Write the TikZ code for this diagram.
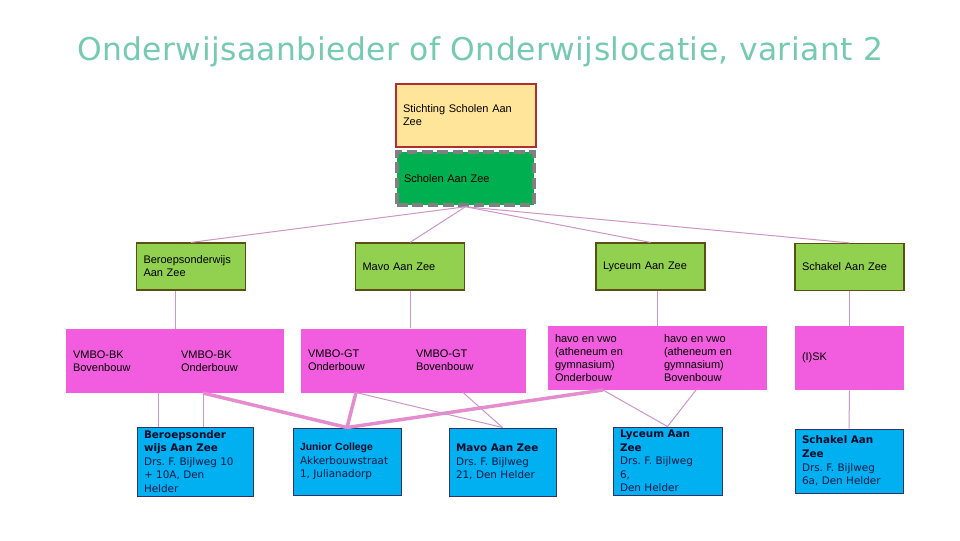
\documentclass[tikz,border=0pt]{standalone}
\usepackage{fontspec}
\setmainfont{Liberation Sans}
\newfontfamily\locfont{DejaVu Sans}
\newfontfamily\titlefont[LetterSpace=1.5]{DejaVu Sans}
\usetikzlibrary{positioning}
\definecolor{titleteal}{RGB}{118,202,176}
\definecolor{sand}{RGB}{255,229,153}
\definecolor{brick}{RGB}{176,48,48}
\definecolor{schoolgreen}{RGB}{0,176,80}
\definecolor{dashgray}{RGB}{128,128,128}
\definecolor{leaf}{RGB}{146,208,80}
\definecolor{olive}{RGB}{90,80,20}
\definecolor{orchid}{RGB}{242,92,222}
\definecolor{sky}{RGB}{0,176,240}
\definecolor{ink}{RGB}{50,50,100}
\definecolor{navytext}{RGB}{15,25,70}
\definecolor{headink}{RGB}{10,10,40}
\definecolor{mauve}{RGB}{204,150,200}
\definecolor{pinkline}{RGB}{228,140,205}
\newcommand{\locname}[1]{{\bfseries\color{headink}#1}}
\frenchspacing
\begin{document}
\begin{tikzpicture}[x=0.75pt, y=-0.75pt,
  smalltext/.style={font=\fontsize{8.25pt}{9.75pt}\selectfont, align=left},
  foundation/.style={smalltext, draw=brick, fill=sand, line width=0.8pt, inner xsep=5.25pt, inner ysep=1pt, text width=94.5pt, minimum height=47.25pt},
  umbrella/.style={smalltext, draw=dashgray, fill=schoolgreen, line width=2.6pt, dash pattern=on 8pt off 3.5pt, inner xsep=5.25pt, inner ysep=1pt, text width=92.25pt, minimum height=39.75pt},
  brand/.style={smalltext, draw=olive, fill=leaf, line width=0.9pt, inner xsep=5.25pt, inner ysep=1pt, text width=71.25pt, minimum height=35.25pt},
  track/.style={fill=orchid, minimum height=48pt, inner sep=0pt},
  tracktext/.style={smalltext, inner sep=0pt, anchor=west},
  locbox/.style={draw=ink, fill=sky, line width=0.75pt, inner xsep=5.25pt, inner ysep=1pt, align=left, text=navytext, font=\locfont\fontsize{7.8pt}{10.2pt}\selectfont},
  link/.style={draw=mauve, line width=0.75pt},
  thicklink/.style={draw=pinkline, line width=2.6pt}]
\path[fill=white] (0,0) rectangle (960,540);
\node[font=\titlefont\fontsize{23.5pt}{28pt}\selectfont, text=titleteal] (title) at (480,52) {Onderwijsaanbieder of Onderwijslocatie, variant 2};
\node[foundation] (stichting) at (466,115.5) {Stichting Scholen Aan\\Zee};
\node[umbrella] (scholen) at (465.5,178.5) {Scholen Aan Zee};
\node[brand] (beroeps) at (191,266.5) {Beroepsonderwijs\\Aan Zee};
\node[brand] (mavo) at (410,266.5) {Mavo Aan Zee};
\node[brand] (lyceum) at (650.5,266.5) {Lyceum Aan Zee};
\node[brand] (schakel) at (849.5,267) {Schakel Aan Zee};
\node[track, minimum width=163.5pt] (bk) at (175,361) {};
\node[track, minimum width=168.75pt] (gt) at (413.5,360.5) {};
\node[track, minimum width=164.25pt] (havo) at (657.5,358) {};
\node[track, minimum width=81.75pt] (isk) at (849.5,358) {};
\node[tracktext, right=5.25pt of bk.west] (bk-bb) {VMBO-BK\\Bovenbouw};
\node[tracktext, right=86.25pt of bk.west] (bk-ob) {VMBO-BK\\Onderbouw};
\node[tracktext, right=5.25pt of gt.west] (gt-ob) {VMBO-GT\\Onderbouw};
\node[tracktext, right=86.25pt of gt.west] (gt-bb) {VMBO-GT\\Bovenbouw};
\node[tracktext, right=5.25pt of havo.west] (havo-ob) {havo en vwo\\(atheneum en\\gymnasium)\\Onderbouw};
\node[tracktext, right=87pt of havo.west] (havo-bb) {havo en vwo\\(atheneum en\\gymnasium)\\Bovenbouw};
\node[tracktext, right=5.25pt of isk.west] (isk-txt) {(I)SK};
\node[locbox, text width=76.5pt, minimum height=51.75pt] (bwaz) at (195,461.5) {\locname{Beroepsonder}\\\locname{wijs Aan Zee}\\Drs. F. Bijlweg 10\\+ 10A, Den\\Helder};
\node[locbox, text width=70.5pt, minimum height=50.25pt] (junior) at (347,461.5) {{\rmfamily\bfseries\color{headink}Junior College}\\Akkerbouwstraat\\1, Julianadorp};
\node[locbox, text width=69.75pt, minimum height=51pt] (mavoloc) at (502.5,462) {\locname{Mavo Aan Zee}\\Drs. F. Bijlweg\\21, Den Helder};
\node[locbox, text width=71.25pt, minimum height=51pt] (lyceumloc) at (667.5,461) {\locname{Lyceum Aan}\\\locname{Zee}\\Drs. F. Bijlweg\\6,\\Den Helder};
\node[locbox, text width=70.5pt, minimum height=48pt] (schakelloc) at (849,461) {\locname{Schakel Aan}\\\locname{Zee}\\Drs. F. Bijlweg\\6a, Den Helder};
\coordinate (bk-1) at (158,393);
\coordinate (bk-2) at (203,393);
\coordinate (gt-1) at (356,392.5);
\coordinate (gt-2) at (463,392.5);
\coordinate (havo-1) at (603,390);
\coordinate (havo-2) at (696,390);
\draw[link] (scholen.south) -- (beroeps.north);
\draw[link] (scholen.south) -- (mavo.north);
\draw[link] (scholen.south) -- (lyceum.north);
\draw[link] (scholen.south) -- (schakel.north);
\draw[link] (bk.north) -- (bk.north |- beroeps.south);
\draw[link] (mavo.south) -- (mavo.south |- gt.north);
\draw[link] (havo.north) -- (havo.north |- lyceum.south);
\draw[link] (schakel.south) -- (isk.north);
\draw[link] (bk-1) -- (bk-1 |- bwaz.north);
\draw[link] (bk-2) -- (bk-2 |- bwaz.north);
\draw[thicklink] (bk-2) -- (junior.north);
\draw[thicklink] (gt-1) -- (junior.north);
\draw[thicklink] (havo-1) -- (junior.north);
\draw[link] (gt-1) -- (mavoloc.north);
\draw[link] (gt-2) -- (mavoloc.north);
\draw[link] (havo-1) -- (lyceumloc.north);
\draw[link] (havo-2) -- (lyceumloc.north);
\draw[link] (isk.south) -- (schakelloc.north);
\end{tikzpicture}
\end{document}
